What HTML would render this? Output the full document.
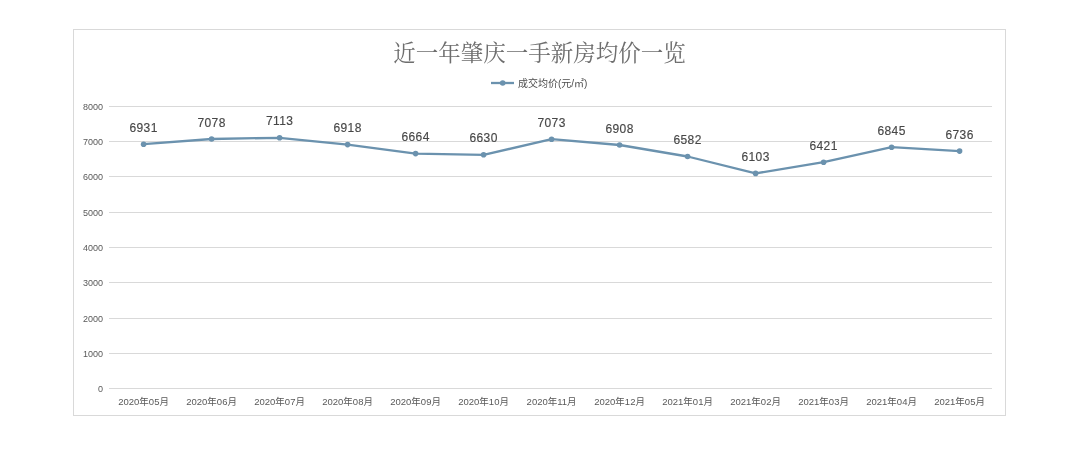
<!DOCTYPE html>
<html><head><meta charset="utf-8"><style>
html,body{margin:0;padding:0;background:#fff;width:1080px;height:476px;overflow:hidden}
svg{display:block;will-change:transform}
.ax{font-family:"Liberation Sans","Noto Sans CJK SC",sans-serif;font-size:9px;fill:#595959}
.dl{font-family:"Liberation Sans","Noto Sans CJK SC",sans-serif;font-size:12px;letter-spacing:0.4px;fill:#474747;stroke:#474747;stroke-width:0.15px}
.xl{font-family:"Liberation Sans","Noto Sans CJK SC",sans-serif;font-size:9.5px;fill:#595959}
.lg{font-family:"Liberation Sans","Noto Sans CJK SC",sans-serif;font-size:10px;fill:#4d4d4d}
.tt{font-family:"Liberation Serif","Noto Serif CJK SC",serif;font-size:22.5px;font-weight:400;fill:#6e6e6e}
</style></head><body>
<svg width="1080" height="476" viewBox="0 0 1080 476">
<rect x="73.5" y="29.5" width="932" height="386" fill="#fff" stroke="#d9d9d9" stroke-width="1"/>
<line x1="109" x2="992" y1="388.5" y2="388.5" stroke="#d9d9d9" stroke-width="1"/>
<text x="103" y="391.7" text-anchor="end" class="ax">0</text>
<line x1="109" x2="992" y1="353.5" y2="353.5" stroke="#d9d9d9" stroke-width="1"/>
<text x="103" y="356.7" text-anchor="end" class="ax">1000</text>
<line x1="109" x2="992" y1="318.5" y2="318.5" stroke="#d9d9d9" stroke-width="1"/>
<text x="103" y="321.7" text-anchor="end" class="ax">2000</text>
<line x1="109" x2="992" y1="282.5" y2="282.5" stroke="#d9d9d9" stroke-width="1"/>
<text x="103" y="285.7" text-anchor="end" class="ax">3000</text>
<line x1="109" x2="992" y1="247.5" y2="247.5" stroke="#d9d9d9" stroke-width="1"/>
<text x="103" y="250.7" text-anchor="end" class="ax">4000</text>
<line x1="109" x2="992" y1="212.5" y2="212.5" stroke="#d9d9d9" stroke-width="1"/>
<text x="103" y="215.7" text-anchor="end" class="ax">5000</text>
<line x1="109" x2="992" y1="176.5" y2="176.5" stroke="#d9d9d9" stroke-width="1"/>
<text x="103" y="179.7" text-anchor="end" class="ax">6000</text>
<line x1="109" x2="992" y1="141.5" y2="141.5" stroke="#d9d9d9" stroke-width="1"/>
<text x="103" y="144.7" text-anchor="end" class="ax">7000</text>
<line x1="109" x2="992" y1="106.5" y2="106.5" stroke="#d9d9d9" stroke-width="1"/>
<text x="103" y="109.7" text-anchor="end" class="ax">8000</text>
<text x="143.6" y="405" text-anchor="middle" class="xl">2020年05月</text>
<text x="211.6" y="405" text-anchor="middle" class="xl">2020年06月</text>
<text x="279.6" y="405" text-anchor="middle" class="xl">2020年07月</text>
<text x="347.6" y="405" text-anchor="middle" class="xl">2020年08月</text>
<text x="415.6" y="405" text-anchor="middle" class="xl">2020年09月</text>
<text x="483.6" y="405" text-anchor="middle" class="xl">2020年10月</text>
<text x="551.6" y="405" text-anchor="middle" class="xl">2020年11月</text>
<text x="619.6" y="405" text-anchor="middle" class="xl">2020年12月</text>
<text x="687.6" y="405" text-anchor="middle" class="xl">2021年01月</text>
<text x="755.6" y="405" text-anchor="middle" class="xl">2021年02月</text>
<text x="823.6" y="405" text-anchor="middle" class="xl">2021年03月</text>
<text x="891.6" y="405" text-anchor="middle" class="xl">2021年04月</text>
<text x="959.6" y="405" text-anchor="middle" class="xl">2021年05月</text>
<polyline points="143.6,144.2 211.6,139.0 279.6,137.8 347.6,144.6 415.6,153.6 483.6,154.8 551.6,139.2 619.6,145.0 687.6,156.5 755.6,173.4 823.6,162.2 891.6,147.2 959.6,151.1" fill="none" stroke="#6b92ae" stroke-width="2.3" stroke-linejoin="round" stroke-linecap="round"/>
<circle cx="143.6" cy="144.2" r="2.8" fill="#6b92ae"/>
<circle cx="211.6" cy="139.0" r="2.8" fill="#6b92ae"/>
<circle cx="279.6" cy="137.8" r="2.8" fill="#6b92ae"/>
<circle cx="347.6" cy="144.6" r="2.8" fill="#6b92ae"/>
<circle cx="415.6" cy="153.6" r="2.8" fill="#6b92ae"/>
<circle cx="483.6" cy="154.8" r="2.8" fill="#6b92ae"/>
<circle cx="551.6" cy="139.2" r="2.8" fill="#6b92ae"/>
<circle cx="619.6" cy="145.0" r="2.8" fill="#6b92ae"/>
<circle cx="687.6" cy="156.5" r="2.8" fill="#6b92ae"/>
<circle cx="755.6" cy="173.4" r="2.8" fill="#6b92ae"/>
<circle cx="823.6" cy="162.2" r="2.8" fill="#6b92ae"/>
<circle cx="891.6" cy="147.2" r="2.8" fill="#6b92ae"/>
<circle cx="959.6" cy="151.1" r="2.8" fill="#6b92ae"/>
<text x="143.6" y="131.7" text-anchor="middle" class="dl">6931</text>
<text x="211.6" y="126.5" text-anchor="middle" class="dl">7078</text>
<text x="279.6" y="125.3" text-anchor="middle" class="dl">7113</text>
<text x="347.6" y="132.1" text-anchor="middle" class="dl">6918</text>
<text x="415.6" y="141.1" text-anchor="middle" class="dl">6664</text>
<text x="483.6" y="142.3" text-anchor="middle" class="dl">6630</text>
<text x="551.6" y="126.7" text-anchor="middle" class="dl">7073</text>
<text x="619.6" y="132.5" text-anchor="middle" class="dl">6908</text>
<text x="687.6" y="144.0" text-anchor="middle" class="dl">6582</text>
<text x="755.6" y="160.9" text-anchor="middle" class="dl">6103</text>
<text x="823.6" y="149.7" text-anchor="middle" class="dl">6421</text>
<text x="891.6" y="134.7" text-anchor="middle" class="dl">6845</text>
<text x="959.6" y="138.6" text-anchor="middle" class="dl">6736</text>
<text x="539.5" y="60.7" text-anchor="middle" class="tt">近一年肇庆一手新房均价一览</text>
<line x1="491" x2="514" y1="83" y2="83" stroke="#6b92ae" stroke-width="2.3"/>
<circle cx="502.7" cy="83" r="2.8" fill="#6b92ae"/>
<text x="518" y="86.5" class="lg">成交均价(元/㎡)</text>
</svg>
</body></html>
